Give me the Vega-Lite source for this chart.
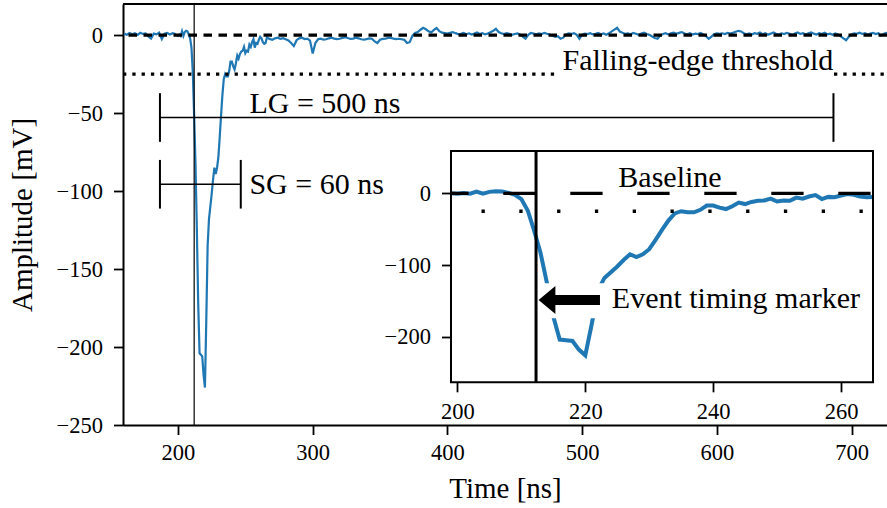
{
"$schema": "https://vega.github.io/schema/vega-lite/v6.json",
"width": 764, "height": 421,
"autosize": {"type": "none"},
"padding": {"left": 123, "top": 4, "right": 0, "bottom": 83},
"config": {
  "font": "Liberation Serif",
  "view": {"stroke": null},
  "axis": {"labelFont": "Liberation Serif", "labelFontSize": 22.5, "labelColor": "black", "tickColor": "black", "tickSize": 9.5, "tickWidth": 1.8, "domainColor": "black", "domainWidth": 2, "grid": false, "titleFont": "Liberation Serif", "titleFontSize": 29, "titleFontWeight": "normal", "titleColor": "black", "labelPadding": 11, "labelFlush": false, "labelOverlap": false, "labelBound": false},
  "text": {"font": "Liberation Serif", "fontSize": 30, "color": "black"}
},
"datasets": {
"trace": [
{"t":160,"v":1.0},{"t":162,"v":0.3},{"t":164,"v":1.4},{"t":166,"v":0.6},{"t":168,"v":1.2},{"t":170,"v":0.2},{"t":172,"v":1.5},{"t":174,"v":0.8},{"t":176,"v":1.1},{"t":178,"v":-0.8},{"t":180,"v":-2.2},{"t":182,"v":1.0},{"t":184,"v":0.5},{"t":186,"v":1.6},{"t":188,"v":-2.5},{"t":190,"v":0.9},{"t":192,"v":1.4},{"t":194,"v":0.4},{"t":196,"v":1.3},{"t":198,"v":0.8},
{"t":199,"v":0},{"t":200,"v":-0.5},{"t":201,"v":0.5},{"t":202,"v":-0.5},{"t":203,"v":2.5},{"t":204,"v":-0.5},{"t":205,"v":2},{"t":206,"v":2.8},{"t":207,"v":2.5},{"t":208,"v":0.5},{"t":209,"v":-2},{"t":210,"v":-8},{"t":211,"v":-24},{"t":212,"v":-52},{"t":213,"v":-83},{"t":214,"v":-125},{"t":215,"v":-172},{"t":216,"v":-204},{"t":217,"v":-205},{"t":218,"v":-206},{"t":219,"v":-218},{"t":220,"v":-226},{"t":221,"v":-183},{"t":222,"v":-135},{"t":223,"v":-118},{"t":224,"v":-110},{"t":225,"v":-102},{"t":226,"v":-93},{"t":227,"v":-85},{"t":228,"v":-89},{"t":229,"v":-85},{"t":230,"v":-78},{"t":231,"v":-65},{"t":232,"v":-51},{"t":233,"v":-38},{"t":234,"v":-28},{"t":235,"v":-25},{"t":236,"v":-26.5},{"t":237,"v":-26.5},{"t":238,"v":-23},{"t":239,"v":-17},{"t":240,"v":-17},{"t":241,"v":-20},{"t":242,"v":-22},{"t":243,"v":-18},{"t":244,"v":-13},{"t":245,"v":-15},{"t":246,"v":-12},{"t":247,"v":-10.5},{"t":248,"v":-10},{"t":249,"v":-7.5},{"t":250,"v":-11.5},{"t":251,"v":-10},{"t":252,"v":-10.5},{"t":253,"v":-6},{"t":254,"v":-7.5},{"t":255,"v":-4.5},{"t":256,"v":-2.5},{"t":257,"v":-8},{"t":258,"v":-5},{"t":259,"v":-5.5},{"t":260,"v":-3},{"t":261,"v":-1},{"t":262,"v":-2},{"t":263,"v":-4.5},{"t":264,"v":-5.5},{"t":265,"v":-5},
{"t":266,"v":-1.5},{"t":268,"v":-2.4},{"t":270,"v":-2.9},{"t":272,"v":-2.0},{"t":274,"v":-1.6},{"t":276,"v":-2.3},{"t":278,"v":-1.9},{"t":280,"v":-2.6},{"t":282,"v":-3.4},{"t":284,"v":-5.0},{"t":286,"v":-7.0},{"t":288,"v":-3.2},{"t":290,"v":-2.0},{"t":292,"v":-1.6},{"t":294,"v":-2.5},{"t":296,"v":-2.2},{"t":298,"v":-3.5},{"t":300,"v":-11.8},{"t":302,"v":-5.0},{"t":304,"v":-2.6},{"t":306,"v":-2.2},{"t":308,"v":-2.9},{"t":310,"v":-2.6},{"t":312,"v":-2.0},{"t":314,"v":-1.6},{"t":316,"v":-2.2},{"t":318,"v":-2.5},{"t":320,"v":-2.3},{"t":322,"v":-1.7},{"t":324,"v":-1.3},{"t":326,"v":-1.8},{"t":328,"v":-2.4},{"t":330,"v":-2.2},{"t":332,"v":-1.6},{"t":334,"v":-2.0},{"t":336,"v":-2.6},{"t":338,"v":-2.9},{"t":340,"v":-2.5},{"t":342,"v":-2.1},{"t":344,"v":-2.3},{"t":346,"v":-4.0},{"t":348,"v":-5.0},{"t":350,"v":-2.9},{"t":352,"v":-2.4},{"t":354,"v":-2.2},{"t":356,"v":-1.8},{"t":358,"v":-1.7},{"t":360,"v":-2.2},{"t":362,"v":-2.5},{"t":364,"v":-2.3},{"t":366,"v":-2.6},{"t":368,"v":-3.0},{"t":370,"v":-5.0},{"t":372,"v":-4.5},{"t":374,"v":-0.5},{"t":376,"v":1.5},{"t":378,"v":2.0},{"t":380,"v":3.5},{"t":382,"v":4.7},{"t":384,"v":3.8},{"t":386,"v":2.5},{"t":388,"v":1.8},{"t":390,"v":3.4},{"t":392,"v":4.6},{"t":394,"v":2.6},{"t":396,"v":1.6},{"t":398,"v":1.3},{"t":400,"v":1.0},{"t":402,"v":1.6},{"t":404,"v":2.0},{"t":406,"v":1.3},{"t":408,"v":0.7},{"t":410,"v":0.9},
{"t":412,"v":1.5},{"t":414,"v":0.6},{"t":416,"v":1.2},{"t":418,"v":0.4},{"t":420,"v":1.0},{"t":422,"v":1.7},{"t":424,"v":0.8},{"t":426,"v":1.3},{"t":428,"v":0.5},{"t":430,"v":1.1},{"t":432,"v":1.9},{"t":434,"v":2.8},{"t":436,"v":4.1},{"t":438,"v":2.0},{"t":440,"v":1.2},{"t":442,"v":0.7},{"t":444,"v":1.3},{"t":446,"v":0.9},{"t":448,"v":0.2},{"t":450,"v":0.8},{"t":452,"v":1.2},{"t":454,"v":0.3},{"t":456,"v":-1.0},{"t":458,"v":-2.3},{"t":460,"v":0.2},{"t":462,"v":1.4},{"t":464,"v":1.0},{"t":466,"v":0.6},{"t":468,"v":1.2},{"t":470,"v":0.7},{"t":472,"v":1.5},{"t":474,"v":0.9},{"t":476,"v":0.4},{"t":478,"v":-0.3},{"t":480,"v":-1.0},{"t":482,"v":-0.6},{"t":484,"v":-2.3},{"t":486,"v":-1.6},{"t":488,"v":0.5},{"t":490,"v":1.1},{"t":492,"v":0.8},{"t":494,"v":1.3},{"t":496,"v":0.2},{"t":498,"v":-2.3},{"t":500,"v":0.4},{"t":502,"v":1.0},{"t":504,"v":0.7},{"t":506,"v":1.3},{"t":508,"v":0.5},{"t":510,"v":0.9},{"t":512,"v":1.4},{"t":514,"v":0.6},{"t":516,"v":1.1},{"t":518,"v":0.3},{"t":520,"v":1.2},{"t":522,"v":2.5},{"t":524,"v":3.6},{"t":526,"v":4.7},{"t":528,"v":2.3},{"t":530,"v":1.5},{"t":532,"v":0.8},{"t":534,"v":1.2},{"t":536,"v":0.6},{"t":538,"v":1.4},{"t":540,"v":0.9},{"t":542,"v":0.3},{"t":544,"v":1.1},{"t":546,"v":1.6},{"t":548,"v":0.7},{"t":550,"v":0.2},{"t":552,"v":-0.8},{"t":554,"v":-1.8},{"t":556,"v":-2.3},{"t":558,"v":-0.2},{"t":560,"v":0.8},{"t":562,"v":1.3},{"t":564,"v":0.5},{"t":566,"v":1.2},{"t":568,"v":1.6},{"t":570,"v":0.9},{"t":572,"v":1.5},{"t":574,"v":2.0},{"t":576,"v":1.1},{"t":578,"v":0.6},{"t":580,"v":1.3},{"t":582,"v":0.4},{"t":584,"v":1.0},{"t":586,"v":0.7},{"t":588,"v":1.4},{"t":590,"v":0.5},{"t":592,"v":-0.6},{"t":594,"v":-2.3},{"t":596,"v":-0.9},{"t":598,"v":0.6},{"t":600,"v":1.1},{"t":602,"v":0.8},{"t":604,"v":1.2},{"t":606,"v":0.7},{"t":608,"v":1.4},{"t":610,"v":1.0},{"t":612,"v":1.6},{"t":614,"v":2.2},{"t":616,"v":2.8},{"t":618,"v":2.4},{"t":620,"v":1.3},{"t":622,"v":0.6},{"t":624,"v":1.1},{"t":626,"v":0.4},{"t":628,"v":1.3},{"t":630,"v":0.9},{"t":632,"v":1.7},{"t":634,"v":0.6},{"t":636,"v":1.2},{"t":638,"v":0.3},{"t":640,"v":1.0},{"t":642,"v":1.8},{"t":644,"v":0.9},{"t":646,"v":0.4},{"t":648,"v":1.2},{"t":650,"v":0.7},{"t":652,"v":1.5},{"t":654,"v":0.9},{"t":656,"v":0.2},{"t":658,"v":1.1},{"t":660,"v":1.7},{"t":662,"v":0.8},{"t":664,"v":1.3},{"t":666,"v":0.5},{"t":668,"v":1.2},{"t":670,"v":1.8},{"t":672,"v":1.0},{"t":674,"v":0.4},{"t":676,"v":1.3},{"t":678,"v":0.8},{"t":680,"v":1.6},{"t":682,"v":0.6},{"t":684,"v":1.0},{"t":686,"v":0.3},{"t":688,"v":1.1},{"t":690,"v":0.5},{"t":692,"v":-0.8},{"t":694,"v":-2.0},{"t":696,"v":-3.2},{"t":698,"v":-1.0},{"t":700,"v":0.6},{"t":702,"v":1.2},{"t":704,"v":0.9},{"t":706,"v":1.6},{"t":708,"v":0.8},{"t":710,"v":1.3},{"t":712,"v":0.4},{"t":714,"v":1.0},{"t":716,"v":1.5},{"t":718,"v":0.7},{"t":720,"v":1.2},{"t":722,"v":-0.3},{"t":724,"v":0.9},{"t":726,"v":1.4},{"t":728,"v":0.8}
]
},
"layer": [
 {"layer": [
  {"data": {"name": "trace"},
   "mark": {"type": "line", "color": "#1f77b4", "strokeWidth": 2.2, "clip": true},
   "encoding": {
     "x": {"field": "t", "type": "quantitative", "scale": {"domain": [159.17, 726.35], "nice": false, "zero": false},
           "axis": {"orient": "bottom", "values": [200, 300, 400, 500, 600, 700], "title": "Time [ns]", "labelPadding": 7, "titlePadding": 10}},
     "y": {"field": "v", "type": "quantitative", "scale": {"domain": [-250, 20], "nice": false, "zero": false},
           "axis": {"orient": "left", "values": [0, -50, -100, -150, -200, -250], "title": "Amplitude [mV]", "titlePadding": 19}}
   }},
  {"data": {"values": [{}]}, "mark": {"type": "rule", "color": "black", "strokeWidth": 3.2, "strokeDash": [8.5, 6.5]},
   "encoding": {"y": {"datum": 0, "type": "quantitative"}}},
  {"data": {"values": [{}]}, "mark": {"type": "rule", "color": "black", "strokeWidth": 3.3, "strokeDash": [3.3, 6]},
   "encoding": {"x": {"datum": 159.17, "type": "quantitative"}, "x2": {"datum": 483}, "y": {"datum": -25, "type": "quantitative"}}},
  {"data": {"values": [{}]}, "mark": {"type": "rule", "color": "black", "strokeWidth": 3.3, "strokeDash": [3.3, 6]},
   "encoding": {"x": {"datum": 687, "type": "quantitative"}, "x2": {"datum": 726.35}, "y": {"datum": -25, "type": "quantitative"}}},
  {"data": {"values": [{}]}, "mark": {"type": "rule", "color": "black", "strokeWidth": 1.2},
   "encoding": {"x": {"datum": 212, "type": "quantitative"}}},
  {"data": {"values": [{}]}, "mark": {"type": "rule", "color": "black", "strokeWidth": 2},
   "encoding": {"y": {"datum": 20, "type": "quantitative"}}},
  {"data": {"values": [{}]}, "mark": {"type": "rule", "color": "black", "strokeWidth": 1.6},
   "encoding": {"x": {"datum": 186.6, "type": "quantitative"}, "x2": {"datum": 686.6}, "y": {"datum": -52.8, "type": "quantitative"}}},
  {"data": {"values": [{}]}, "mark": {"type": "rule", "color": "black", "strokeWidth": 2},
   "encoding": {"x": {"datum": 186.6, "type": "quantitative"}, "y": {"datum": -37.2, "type": "quantitative"}, "y2": {"datum": -68.4}}},
  {"data": {"values": [{}]}, "mark": {"type": "rule", "color": "black", "strokeWidth": 2},
   "encoding": {"x": {"datum": 686.6, "type": "quantitative"}, "y": {"datum": -37.2, "type": "quantitative"}, "y2": {"datum": -68.4}}},
  {"data": {"values": [{}]}, "mark": {"type": "rule", "color": "black", "strokeWidth": 1.6},
   "encoding": {"x": {"datum": 186.6, "type": "quantitative"}, "x2": {"datum": 246.6}, "y": {"datum": -95.6, "type": "quantitative"}}},
  {"data": {"values": [{}]}, "mark": {"type": "rule", "color": "black", "strokeWidth": 2},
   "encoding": {"x": {"datum": 186.6, "type": "quantitative"}, "y": {"datum": -80, "type": "quantitative"}, "y2": {"datum": -111.2}}},
  {"data": {"values": [{}]}, "mark": {"type": "rule", "color": "black", "strokeWidth": 2},
   "encoding": {"x": {"datum": 246.6, "type": "quantitative"}, "y": {"datum": -80, "type": "quantitative"}, "y2": {"datum": -111.2}}},
  {"data": {"values": [{"label": "LG = 500 ns"}]}, "mark": {"type": "text", "align": "left", "baseline": "alphabetic"},
   "encoding": {"x": {"datum": 253, "type": "quantitative"}, "y": {"datum": -50, "type": "quantitative"}, "text": {"field": "label"}}},
  {"data": {"values": [{"label": "SG = 60 ns"}]}, "mark": {"type": "text", "align": "left", "baseline": "alphabetic"},
   "encoding": {"x": {"datum": 253, "type": "quantitative"}, "y": {"datum": -101.6, "type": "quantitative"}, "text": {"field": "label"}}},
  {"data": {"values": [{"label": "Falling-edge threshold"}]}, "mark": {"type": "text", "align": "right", "baseline": "alphabetic"},
   "encoding": {"x": {"datum": 686.5, "type": "quantitative"}, "y": {"datum": -22.2, "type": "quantitative"}, "text": {"field": "label"}}}
 ]},
 {"layer": [
  {"data": {"name": "trace"},
   "transform": [{"filter": {"field": "t", "range": [199, 265]}}],
   "mark": {"type": "line", "color": "#1f77b4", "strokeWidth": 4},
   "encoding": {
     "x": {"field": "t", "type": "quantitative", "scale": {"domain": [199, 265], "range": [328, 750], "nice": false, "zero": false},
           "axis": {"orient": "bottom", "offset": -42.7, "values": [200, 220, 240, 260], "title": null, "domain": false, "labelPadding": 9}},
     "y": {"field": "v", "type": "quantitative", "scale": {"domain": [-263.6, 59], "range": [378.3, 147], "nice": false, "zero": false},
           "axis": {"orient": "left", "offset": -328, "values": [0, -100, -200], "title": null, "domain": false}}
   }},
  {"data": {"values": [{}]}, "mark": {"type": "rule", "color": "black", "strokeWidth": 3.2, "strokeDash": [32.3, 34.7], "strokeDashOffset": 14.7},
   "encoding": {"x": {"datum": 199, "type": "quantitative"}, "x2": {"datum": 265}, "y": {"datum": 0, "type": "quantitative"}}},
  {"data": {"values": [{}]}, "mark": {"type": "rule", "color": "black", "strokeWidth": 3.3, "strokeDash": [3.3, 34.5], "strokeDashOffset": 7.3},
   "encoding": {"x": {"datum": 199, "type": "quantitative"}, "x2": {"datum": 265}, "y": {"datum": -25, "type": "quantitative"}}},
  {"data": {"values": [{}]}, "mark": {"type": "rect", "color": "white", "opacity": 1},
   "encoding": {"x": {"datum": 213, "type": "quantitative"}, "x2": {"datum": 223.8}, "y": {"datum": -125.6, "type": "quantitative"}, "y2": {"datum": -174.4}}},
  {"data": {"values": [{}]}, "mark": {"type": "rule", "color": "black", "strokeWidth": 3},
   "encoding": {"x": {"datum": 212.3, "type": "quantitative"}, "y": {"datum": -263.6, "type": "quantitative"}, "y2": {"datum": 59}}},
  {"data": {"values": [{}]}, "mark": {"type": "rule", "color": "black", "strokeWidth": 10},
   "encoding": {"x": {"datum": 215, "type": "quantitative"}, "x2": {"datum": 222.3}, "y": {"datum": -148.8, "type": "quantitative"}}},
  {"data": {"values": [{}]}, "mark": {"type": "point", "shape": "M0,0L1.2,-1L1.2,1Z", "size": 784, "filled": true, "color": "black", "opacity": 1, "strokeWidth": 0},
   "encoding": {"x": {"datum": 212.7, "type": "quantitative"}, "y": {"datum": -148.8, "type": "quantitative"}}},
  {"data": {"values": [{}]}, "mark": {"type": "rect", "fill": null, "stroke": "black", "strokeWidth": 2},
   "encoding": {"x": {"datum": 199, "type": "quantitative"}, "x2": {"datum": 265}, "y": {"datum": -263.6, "type": "quantitative"}, "y2": {"datum": 59}}},
  {"data": {"values": [{"label": "Baseline"}]}, "mark": {"type": "text", "align": "center", "baseline": "alphabetic"},
   "encoding": {"x": {"datum": 233.25, "type": "quantitative"}, "y": {"datum": 9.2, "type": "quantitative"}, "text": {"field": "label"}}},
  {"data": {"values": [{"label": "Event timing marker"}]}, "mark": {"type": "text", "align": "left", "baseline": "alphabetic"},
   "encoding": {"x": {"datum": 224.15, "type": "quantitative"}, "y": {"datum": -160.4, "type": "quantitative"}, "text": {"field": "label"}}}
 ]}
],
"resolve": {"scale": {"x": "independent", "y": "independent"}}
}
